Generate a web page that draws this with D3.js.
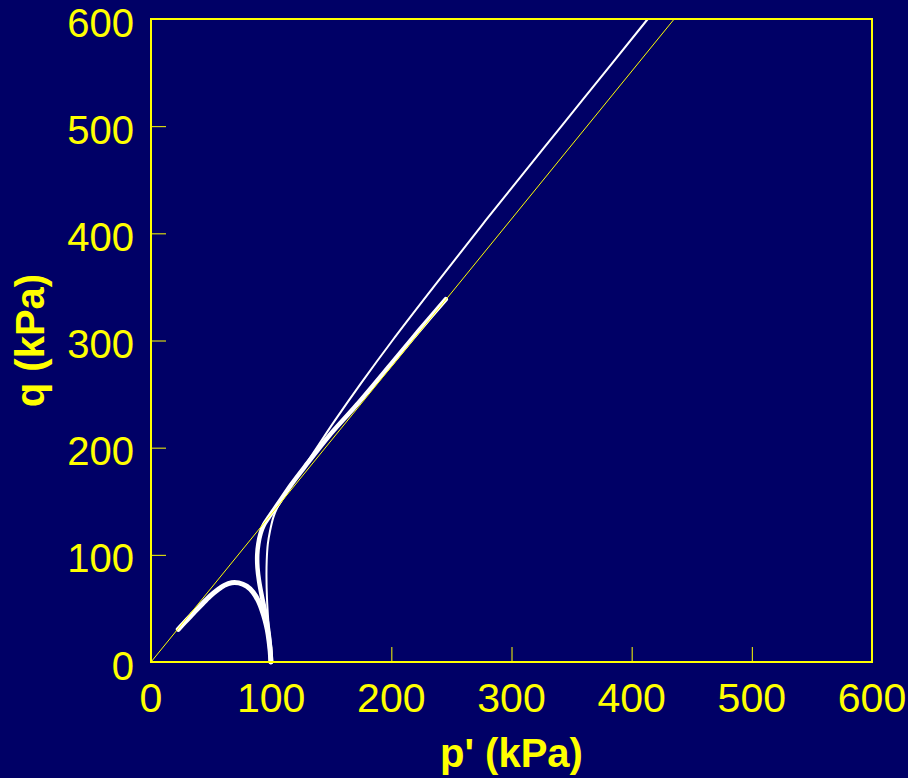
<!DOCTYPE html>
<html>
<head>
<meta charset="utf-8">
<script src="https://cdn.jsdelivr.net/npm/d3@7"></script>
<style>
  html, body { margin: 0; padding: 0; background: #000066; }
  svg { display: block; }
</style>
</head>
<body>
<svg id="chart" width="908" height="778"></svg>
<script>
// ---- data (p', q in kPa) ----
const xTicks = [0, 100, 200, 300, 400, 500, 600];
const yTicks = [0, 100, 200, 300, 400, 500, 600];
const cslSlope = 1.378;             // critical state line q = M p'
const cslP = [0, 435.4];

// loose sample: undrained path, peaks and falls onto the CSL
const loosePath = [
  [99.7, 0], [99.2, 10], [98.2, 20], [96.8, 30], [94.9, 39.2], [92.5, 48],
  [89.3, 57], [85, 65], [79.6, 70.8], [73, 73.8], [67.1, 74], [61, 71.5],
  [55, 67], [49.1, 61.5], [42, 53.5], [35.2, 45.5], [28, 37], [22.7, 30.5]
];
// dense sample (thick): turns back, crosses the CSL and ends on it
const densePath = [
  [100, 0], [99, 15], [97.5, 30], [95.3, 45], [92.5, 60], [90, 75],
  [88.6, 88], [88.4, 100], [89.3, 110], [91.2, 120], [94, 128], [98, 135],
  [106, 148], [117, 166], [130.6, 186], [147.4, 210], [171.2, 240],
  [201.2, 280], [223.5, 310], [245.3, 338.5]
];
// dense sample (thin): rises above the CSL and runs parallel to it
const thinPath = [
  [100, 0], [98.8, 20], [97.5, 40], [96.5, 60], [96.1, 80], [96.3, 95],
  [97.2, 110], [99, 122], [101.8, 135], [105, 144], [108.8, 151],
  [114, 160], [120, 170], [135, 195], [152.8, 225], [174.7, 260],
  [200.9, 300], [235.2, 350], [278.5, 412], [327.1, 480], [358.8, 524],
  [413.4, 600]
];

// ---- chart ----
const svg = d3.select("#chart");
const W = 908, H = 778;
const yellow = "#ffff00";
svg.append("rect").attr("width", W).attr("height", H).attr("fill", "#000066");

const x = d3.scaleLinear().domain([0, 600]).range([151, 872]);
const y = d3.scaleLinear().domain([0, 600]).range([662, 19]);

const font = "'Liberation Sans', Arial, Helvetica, sans-serif";

// ticks (inward)
const gx = svg.append("g").attr("transform", `translate(0,${y(0)})`)
  .call(d3.axisBottom(x).tickValues(xTicks).tickSizeInner(-15).tickSizeOuter(0).tickPadding(0).tickFormat(""));
const gy = svg.append("g").attr("transform", `translate(${x(0)},0)`)
  .call(d3.axisLeft(y).tickValues(yTicks).tickSizeInner(-15).tickSizeOuter(0).tickPadding(0).tickFormat(""));
[gx, gy].forEach(g => {
  g.select(".domain").remove();
  g.selectAll(".tick line").attr("stroke", yellow).attr("stroke-width", 1);
});

// tick labels
svg.append("g").selectAll("text").data(xTicks).join("text")
  .attr("x", d => x(d)).attr("y", 712)
  .attr("text-anchor", "middle")
  .attr("font-family", font).attr("font-size", 41)
  .attr("fill", yellow).text(d => d);
svg.append("g").selectAll("text").data(yTicks).join("text")
  .attr("x", 134).attr("y", d => y(d) + 17.5)
  .attr("text-anchor", "end")
  .attr("font-family", font).attr("font-size", 40)
  .attr("fill", yellow).text(d => d);

// axis titles
svg.append("text")
  .attr("x", (x(0) + x(600)) / 2).attr("y", 767)
  .attr("text-anchor", "middle")
  .attr("font-family", font).attr("font-size", 40).attr("font-weight", "bold")
  .attr("fill", yellow).text("p' (kPa)");
svg.append("text")
  .attr("transform", `translate(44,${(y(0) + y(600)) / 2}) rotate(-90)`)
  .attr("text-anchor", "middle")
  .attr("font-family", font).attr("font-size", 40).attr("font-weight", "bold")
  .attr("fill", yellow).text("q (kPa)");

// stress paths
const line = d3.line().x(d => x(d[0])).y(d => y(d[1])).curve(d3.curveCatmullRom.alpha(0.5));
svg.append("path").datum(loosePath).attr("d", line)
  .attr("fill", "none").attr("stroke", "#ffffff").attr("stroke-width", 5)
  .attr("stroke-linecap", "round").attr("stroke-linejoin", "round");
svg.append("path").datum(densePath).attr("d", line)
  .attr("fill", "none").attr("stroke", "#ffffff").attr("stroke-width", 4.5)
  .attr("stroke-linecap", "round").attr("stroke-linejoin", "round");
svg.append("path").datum(thinPath).attr("d", line)
  .attr("fill", "none").attr("stroke", "#ffffff").attr("stroke-width", 2)
  .attr("stroke-linejoin", "round");

// critical state line
svg.append("line")
  .attr("x1", x(cslP[0])).attr("y1", y(cslP[0] * cslSlope))
  .attr("x2", x(cslP[1])).attr("y2", y(cslP[1] * cslSlope))
  .attr("stroke", yellow).attr("stroke-width", 1);

// frame
svg.append("rect")
  .attr("x", x(0)).attr("y", y(600))
  .attr("width", x(600) - x(0)).attr("height", y(0) - y(600))
  .attr("fill", "none").attr("stroke", yellow).attr("stroke-width", 2);
</script>
</body>
</html>
